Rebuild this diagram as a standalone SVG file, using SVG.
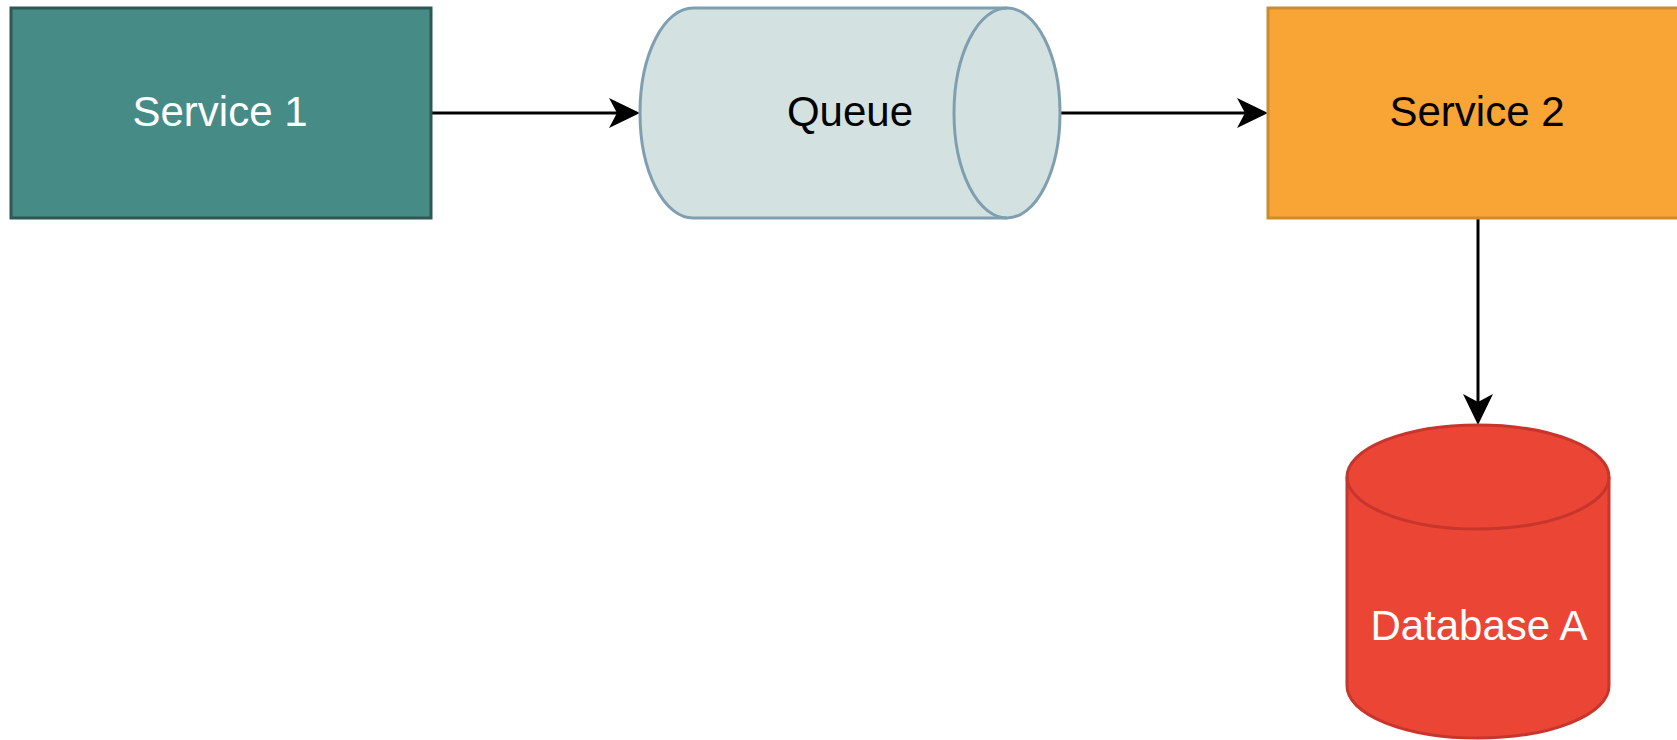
<svg xmlns="http://www.w3.org/2000/svg" width="1677" height="740" viewBox="0 0 1677 740">
  <style>
    .lbl { font-family: "Liberation Sans", Arial, sans-serif; font-size: 42px; text-anchor: middle; }
    .conn { fill: none; stroke: #000000; stroke-width: 3; }
  </style>
  <defs>
    <marker id="arrow" viewBox="-9 -16 33 32" refX="0" refY="0" markerWidth="33" markerHeight="32" markerUnits="userSpaceOnUse" orient="auto">
      <path d="M23,0 L-8,-15 L0,0 L-8,15 Z" fill="#000000"/>
    </marker>
  </defs>
  <rect width="1677" height="740" fill="#ffffff"/>

  <g id="connectors">
    <path class="conn" d="M431,113 L617,113" marker-end="url(#arrow)"/>
    <path class="conn" d="M1060,113 L1245,113" marker-end="url(#arrow)"/>
    <path class="conn" d="M1478,218 L1478,402" marker-end="url(#arrow)"/>
  </g>

  <g id="service1">
    <rect x="11" y="8" width="420" height="210" fill="#468b86" stroke="#2d5854" stroke-width="3"/>
    <text class="lbl" x="220" y="126" fill="#ffffff">Service 1</text>
  </g>

  <g id="queue">
    <path d="M693,8 L1007,8 A53,105 0 0 1 1007,218 L693,218 A53,105 0 0 1 693,8 Z" fill="#d3e2e1" stroke="#7f9fb0" stroke-width="3"/>
    <path d="M1007,8 A53,105 0 0 0 1007,218" fill="none" stroke="#7f9fb0" stroke-width="3"/>
    <text class="lbl" x="850" y="126" fill="#000000">Queue</text>
  </g>

  <g id="service2">
    <rect x="1268" y="8" width="420" height="210" fill="#f8a536" stroke="#ce8a2e" stroke-width="3"/>
    <text class="lbl" x="1477" y="126" fill="#000000">Service 2</text>
  </g>

  <g id="databaseA">
    <path d="M1347,477 A131,52 0 0 1 1609,477 L1609,686 A131,52 0 0 1 1347,686 Z" fill="#eb4535" stroke="#c7352c" stroke-width="3"/>
    <path d="M1347,477 A131,52 0 0 0 1609,477" fill="none" stroke="#c7352c" stroke-width="3"/>
    <text class="lbl" x="1479" y="640" fill="#ffffff">Database A</text>
  </g>
</svg>
